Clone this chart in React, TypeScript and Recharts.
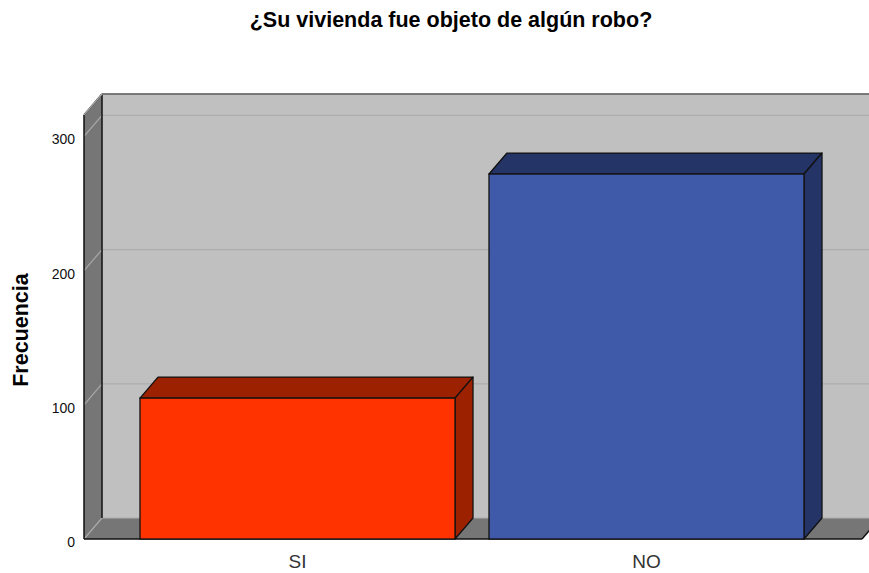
import React from 'react';
import { BarChart, Bar, XAxis, YAxis, CartesianGrid, Customized } from 'recharts';

const categories = ['SI', 'NO'];
const frequencies = [105, 272];
const yTicks = [0, 100, 200, 300];
const yMax = 316;
const frontColors = ['#FF3300', '#3E5AA8'];
const shadeColors = ['#9C2100', '#243466'];

const data = categories.map((c, i) => ({ name: c, value: frequencies[i] }));

const DX = 18;
const DY = -21;
const FONT = '"Liberation Sans", Arial, sans-serif';
const EDGE = '#111';

const Box = ({ x, y, w, h }: { x: number; y: number; w: number; h: number }) => (
  <g>
    <rect x={x + DX} y={y + DY} width={w} height={h} fill="#C0C0C0" />
    <polygon
      points={`${x},${y} ${x + DX},${y + DY} ${x + DX},${y + h + DY} ${x},${y + h}`}
      fill="#767676"
    />
    <polygon
      points={`${x},${y + h} ${x + DX},${y + h + DY} ${x + w + DX},${y + h + DY} ${x + w},${y + h}`}
      fill="#767676"
    />
  </g>
);

const BoxEdges = ({ x, y, w, h }: { x: number; y: number; w: number; h: number }) => (
  <g>
    <line x1={x + DX} y1={y + DY} x2={x + w + DX} y2={y + DY} stroke={EDGE} strokeWidth={1.5} />
    <line x1={x} y1={y} x2={x + DX} y2={y + DY} stroke={EDGE} strokeWidth={1.5} />
    <line x1={x} y1={y} x2={x} y2={y + h} stroke={EDGE} strokeWidth={1.5} />
    <line x1={x + DX} y1={y + DY} x2={x + DX} y2={y + h + DY} stroke={EDGE} strokeWidth={1.5} />
    <line x1={x} y1={y + h} x2={x + w} y2={y + h} stroke={EDGE} strokeWidth={1.5} />
    <line x1={x + w} y1={y + h} x2={x + w + DX} y2={y + h + DY} stroke={EDGE} strokeWidth={1.5} />
  </g>
);

const GridLine = (props: any) => {
  const { x1, y1, x2, y2, x, y, width, height, index } = props;
  const left = Math.min(x1, x2);
  const right = Math.max(x1, x2);
  return (
    <g key={`grid-${index}`}>
      {index === 0 && <Box x={x} y={y} w={width} h={height} />}
      <line x1={left} y1={y1} x2={left + DX} y2={y1 + DY} stroke="#A9A9A9" strokeWidth={1.2} />
      <line x1={left + DX} y1={y2 + DY} x2={right + DX} y2={y2 + DY} stroke="#ADADAD" strokeWidth={1.2} />
      {index === yTicks.length - 1 && <BoxEdges x={x} y={y} w={width} h={height} />}
    </g>
  );
};

const Bar3D = (props: any) => {
  const { x, y, width: w, height: h, index } = props;
  const front = frontColors[index % frontColors.length];
  const shade = shadeColors[index % shadeColors.length];
  return (
    <g>
      <polygon
        points={`${x},${y} ${x + DX},${y + DY} ${x + w + DX},${y + DY} ${x + w},${y}`}
        fill={shade}
        stroke={EDGE}
        strokeWidth={1.3}
        strokeLinejoin="round"
      />
      <polygon
        points={`${x + w},${y} ${x + w + DX},${y + DY} ${x + w + DX},${y + h + DY} ${x + w},${y + h}`}
        fill={shade}
        stroke={EDGE}
        strokeWidth={1.3}
        strokeLinejoin="round"
      />
      <rect x={x} y={y} width={w} height={h} fill={front} stroke={EDGE} strokeWidth={1.3} />
    </g>
  );
};

const Texts = () => (
  <g>
    <text x={451} y={20} textAnchor="middle" dominantBaseline="central" fontFamily={FONT} fontWeight="bold" fontSize={21.5} fill="#000">
      ¿Su vivienda fue objeto de algún robo?
    </text>
    <text
      x={21}
      y={330}
      transform="rotate(-90 21 330)"
      textAnchor="middle"
      dominantBaseline="central"
      fontFamily={FONT}
      fontWeight="bold"
      fontSize={21.5}
      fill="#000"
    >
      Frecuencia
    </text>
  </g>
);

export default function App() {
  return (
    <div style={{ position: 'fixed', left: 0, top: 0, width: 869, height: 573, background: '#fff' }}>
      <BarChart
        width={869}
        height={573}
        data={data}
        margin={{ top: 115, right: 7, bottom: 0, left: 0 }}
        barSize={315}
      >
        <CartesianGrid vertical={false} horizontal={GridLine} />
        <XAxis
          dataKey="name"
          height={34}
          padding={{ left: 39, right: 41 }}
          axisLine={false}
          tickLine={false}
          tickSize={0}
          tickMargin={16}
          tick={{ fontSize: 19, fill: '#333', fontFamily: FONT }}
        />
        <YAxis
          width={84}
          domain={[0, yMax]}
          ticks={yTicks}
          axisLine={false}
          tickLine={false}
          tickSize={0}
          tickMargin={9}
          tick={{ fontSize: 14, fill: '#111', fontFamily: FONT, dy: 3 }}
        />
        <Bar dataKey="value" shape={Bar3D} isAnimationActive={false} />
        <Customized component={Texts} />
      </BarChart>
    </div>
  );
}
